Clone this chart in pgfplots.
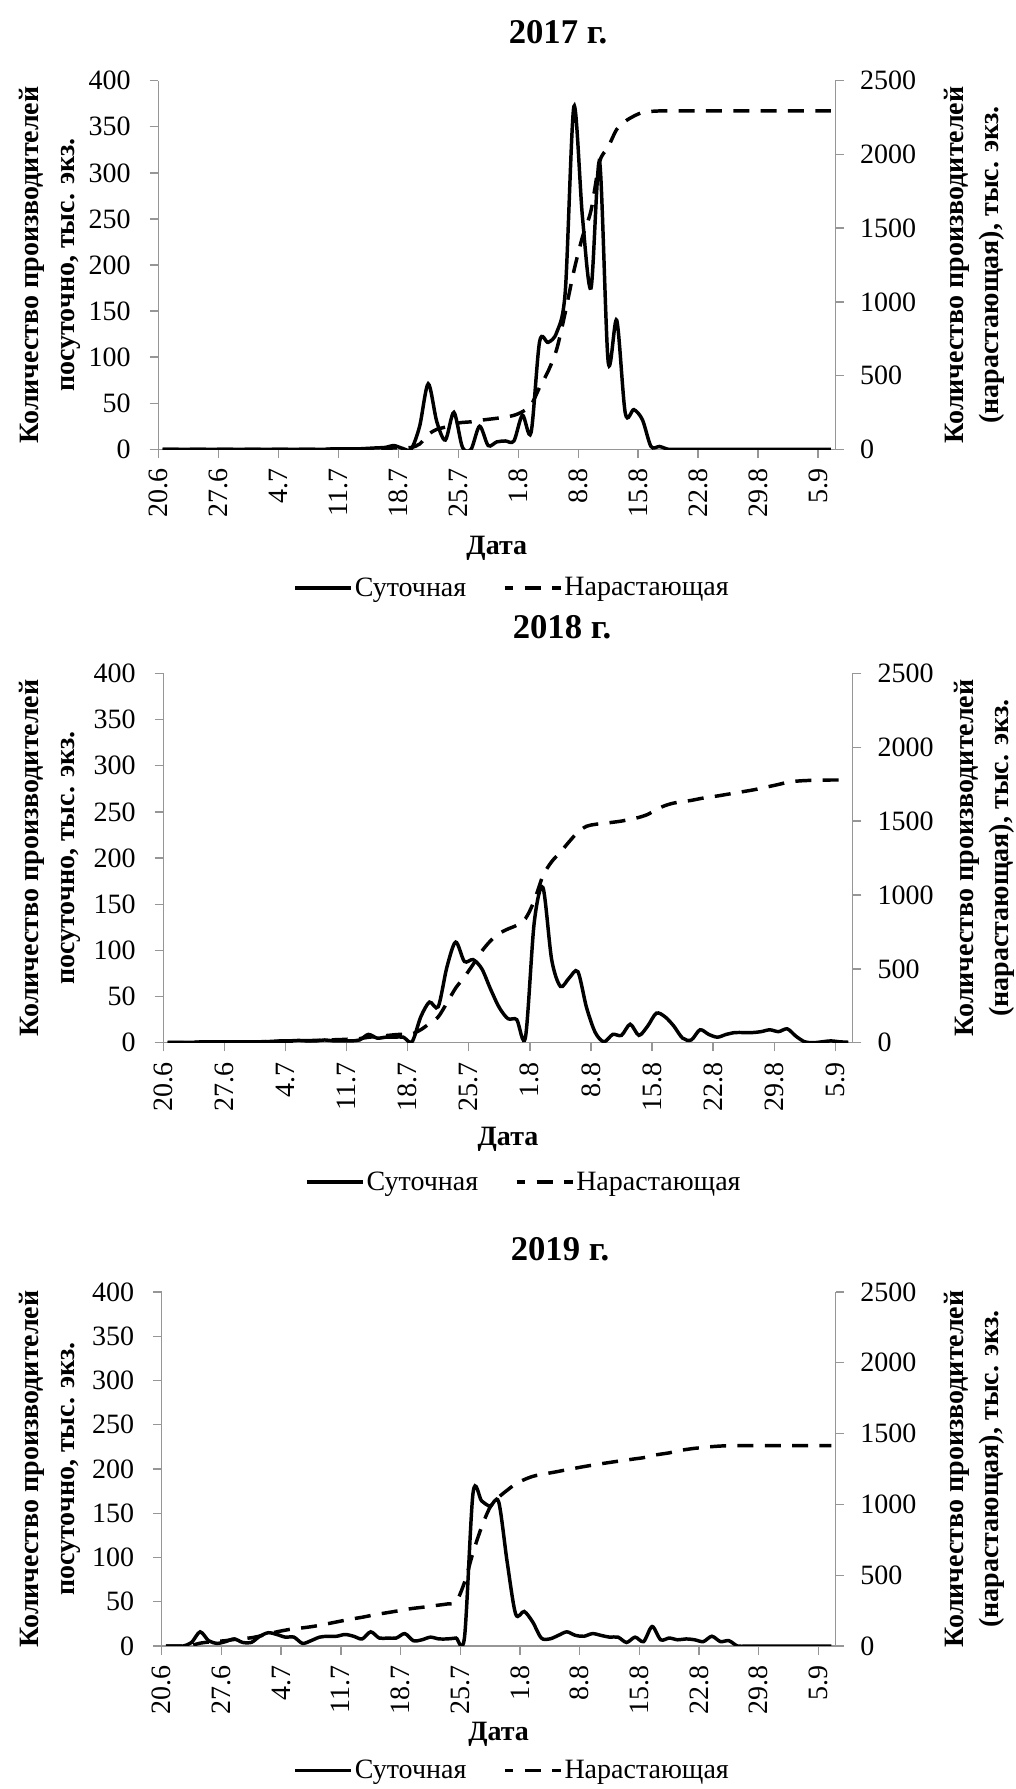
\documentclass[border=0pt]{standalone}
\usepackage{fontspec}
\setmainfont{Liberation Serif}
\usepackage{pgfplots}
\usepackage{pgfplotstable}
\pgfplotsset{compat=1.18}
\definecolor{axgray}{RGB}{150,150,150}
\newcommand{\tf}{\fontsize{21pt}{25pt}\selectfont}
\newcommand{\lf}{\fontsize{21pt}{26.5pt}\selectfont\bfseries}
\newcommand{\ttlf}{\fontsize{26pt}{30pt}\selectfont\bfseries}

% 2017: x = day index + 0.5 (0 = 20.6), d = daily, c = cumulative
\pgfplotstableread{
x d c
0.5 0 0
1.5 0 0
2.5 0 0
3.5 0 0
4.5 0 0
5.5 0 0
6.5 0 0
7.5 0 0
8.5 0 0
9.5 0 0
10.5 0 0
11.5 0 0
12.5 0 0
13.5 0 0
14.5 0 0
15.5 0 0
16.5 0 0
17.5 0 0
18.5 0 0
19.5 0 0
20.5 0.5 0
21.5 0.5 1
22.5 0.5 1
23.5 0.5 1
24.5 1 2
25.5 1.5 3
26.5 2 5
27.5 4 9
28.5 1 10
29.5 0 12
30.5 25 35
31.5 71 100
32.5 30 135
33.5 10 150
34.5 40 172
35.5 2 182
36.5 0 186
37.5 25 196
38.5 4 203
39.5 8 210
40.5 9 218
41.5 9 230
42.5 37 255
43.5 18 300
44.5 117 420
45.5 116 530
46.5 127 680
47.5 172 930
48.5 372 1210
49.5 252 1440
50.5 175 1620
51.5 312 1950
52.5 95 2050
53.5 140 2170
54.5 39 2225
55.5 43 2260
56.5 32 2285
57.5 3 2292
58.5 3 2295
59.5 0 2295
60.5 0 2295
61.5 0 2295
62.5 0 2295
63.5 0 2295
64.5 0 2295
65.5 0 2295
66.5 0 2295
67.5 0 2295
68.5 0 2295
69.5 0 2295
70.5 0 2295
71.5 0 2295
72.5 0 2295
73.5 0 2295
74.5 0 2295
75.5 0 2295
76.5 0 2295
77.5 0 2295
78.5 0 2295
}\dataA

% 2018
\pgfplotstableread{
x d c
0.5 0.5 0
1.5 0.5 1
2.5 0.5 1
3.5 0.5 2
4.5 1 2
5.5 1 3
6.5 1 3
7.5 1 4
8.5 1 4
9.5 1 5
10.5 1 6
11.5 1 7
12.5 1.5 8
13.5 2 9
14.5 2 10
15.5 2.5 12
16.5 2 14
17.5 2 16
18.5 3 18
19.5 2 20
20.5 2 22
21.5 2 25
22.5 3 28
23.5 9 37
24.5 5 42
25.5 6 48
26.5 6 54
27.5 6 58
28.5 1 60
29.5 28 88
30.5 44 130
31.5 39 175
32.5 82 270
33.5 109 370
34.5 88 445
35.5 90 530
36.5 80 620
37.5 58 690
38.5 38 740
39.5 26 770
40.5 25 795
41.5 6 840
42.5 130 960
43.5 168 1130
44.5 90 1225
45.5 61 1290
46.5 70 1360
47.5 77 1425
48.5 38 1465
49.5 11 1478
50.5 1 1485
51.5 9 1492
52.5 8 1500
53.5 20 1512
54.5 8 1525
55.5 18 1545
56.5 32 1578
57.5 28 1605
58.5 18 1622
59.5 5 1632
60.5 3 1640
61.5 14 1652
62.5 9 1662
63.5 6 1670
64.5 9 1680
65.5 11 1690
66.5 11 1700
67.5 11 1710
68.5 12 1722
69.5 14 1735
70.5 12 1748
71.5 15 1762
72.5 7 1770
73.5 1 1774
74.5 0 1776
75.5 1 1777
76.5 2 1778
77.5 1 1778
78.5 0.5 1778
}\dataB

% 2019
\pgfplotstableread{
x d c
0.5 0 0
1.5 0 0
2.5 0 0
3.5 4 5
4.5 16 20
5.5 6 28
6.5 3 32
7.5 5 38
8.5 8 46
9.5 4 52
10.5 4 58
11.5 11 70
12.5 15 86
13.5 13 100
14.5 10 112
15.5 10 122
16.5 3 128
17.5 6 136
18.5 10 146
19.5 11 158
20.5 11 170
21.5 13 182
22.5 11 193
23.5 8 203
24.5 16 215
25.5 9 226
26.5 9 236
27.5 9 246
28.5 14 257
29.5 6 266
30.5 7 273
31.5 10 281
32.5 8 289
33.5 8 297
34.5 9 310
35.5 10 450
36.5 173 660
37.5 164 840
38.5 158 980
39.5 163 1050
40.5 95 1100
41.5 36 1145
42.5 39 1175
43.5 27 1198
44.5 9 1212
45.5 8 1222
46.5 12 1233
47.5 16 1245
48.5 12 1256
49.5 11 1267
50.5 14 1277
51.5 12 1287
52.5 10 1296
53.5 10 1305
54.5 4 1313
55.5 10 1322
56.5 5 1330
57.5 22 1345
58.5 7 1355
59.5 9 1364
60.5 7 1378
61.5 8 1388
62.5 7 1396
63.5 5 1402
64.5 11 1408
65.5 5 1412
66.5 6 1415
67.5 0 1415
68.5 0 1415
69.5 0 1415
70.5 0 1415
71.5 0 1415
72.5 0 1415
73.5 0 1415
74.5 0 1415
75.5 0 1415
76.5 0 1415
77.5 0 1415
78.5 0 1415
}\dataC

\pgfplotsset{
  panel/.style={
    scale only axis, anchor=south west,
    xmin=0, xmax=79,
    axis line style={draw=axgray, line width=1pt},
    every tick/.style={draw=axgray, line width=1pt},
    tick align=outside, major tick length=6.5pt,
  },
  leftax/.style={panel, ymin=0, ymax=400,
    axis x line*=bottom, axis y line*=left,
    xtick={0,7,...,77},
    xticklabels={20.6,27.6,4.7,11.7,18.7,25.7,1.8,8.8,15.8,22.8,29.8,5.9},
    ytick={0,50,...,400},
    yticklabels={0,50,100,150,200,250,300,350,400},
    xticklabel style={rotate=90, anchor=east, inner xsep=8pt, font=\tf},
    yticklabel style={anchor=east, inner xsep=14pt, font=\tf},
  },
  rightax/.style={panel, ymin=0, ymax=2500,
    axis x line=none, axis y line*=right, xtick=\empty,
    ytick={0,500,...,2500},
    yticklabels={0,500,1000,1500,2000,2500},
    yticklabel style={anchor=west, inner xsep=12pt, font=\tf},
    legend image code/.code={\draw[#1, dash phase=5.5pt] (0pt,0pt) -- (42pt,0pt);},
    legend style={anchor=center, draw=none, fill=none, legend columns=2,
      font=\tf, nodes={inner sep=1.5pt},
      /tikz/every even column/.append style={column sep=26pt}},
  },
  daily/.style={black, line width=2.6pt, smooth, no marks},
  cumul/.style={black, line width=2.6pt, smooth, no marks, dash pattern=on 12pt off 8.5pt},
}

\begin{document}
\begin{tikzpicture}
\path[use as bounding box] (0pt,0pt) rectangle (761.25pt,1341.75pt);

% ---------- 2017 ----------
\begin{axis}[leftax, at={(118.7pt,1004.8pt)}, width=507.75pt, height=276.4pt]
\addplot[daily] table[x=x,y=d]{\dataA};
\end{axis}
\begin{axis}[rightax, at={(118.7pt,1004.8pt)}, width=507.75pt, height=276.4pt,
  legend style={at={(0.5225,-0.376)}}]
\addlegendimage{daily}
\addlegendentry{Суточная}
\addplot[cumul] table[x=x,y=c]{\dataA};
\addlegendentry{Нарастающая}
\end{axis}
\node[font=\ttlf] at (418.5pt,1317.75pt) {2017 г.};
\node[font=\lf] at (372.6pt,930.75pt) {Дата};
\node[font=\lf, rotate=90, align=center] at (37.5pt,1143pt) {Количество производителей\\посуточно,  тыс. экз.};
\node[font=\lf, rotate=90, align=center] at (730.5pt,1143pt) {Количество производителей\\(нарастающая), тыс. экз.};

% ---------- 2018 ----------
\begin{axis}[leftax, at={(122.5pt,559.7pt)}, width=517.05pt, height=277.05pt]
\addplot[daily] table[x=x,y=d]{\dataB};
\end{axis}
\begin{axis}[rightax, at={(122.5pt,559.7pt)}, width=517.05pt, height=277.05pt,
  legend style={at={(0.523,-0.377)}}]
\addlegendimage{daily}
\addlegendentry{Суточная}
\addplot[cumul] table[x=x,y=c]{\dataB};
\addlegendentry{Нарастающая}
\end{axis}
\node[font=\ttlf] at (421.5pt,871.5pt) {2018 г.};
\node[font=\lf] at (381pt,487.5pt) {Дата};
\node[font=\lf, rotate=90, align=center] at (37.5pt,698.25pt) {Количество производителей\\посуточно,  тыс. экз.};
\node[font=\lf, rotate=90, align=center] at (738pt,698.25pt) {Количество производителей\\(нарастающая), тыс. экз.};

% ---------- 2019 ----------
\begin{axis}[leftax, at={(121.3pt,107.25pt)}, width=505.35pt, height=265.5pt]
\addplot[daily] table[x=x,y=d]{\dataC};
\end{axis}
\begin{axis}[rightax, at={(121.3pt,107.25pt)}, width=505.35pt, height=265.5pt,
  legend style={at={(0.52,-0.351)}}]
\addlegendimage{daily}
\addlegendentry{Суточная}
\addplot[cumul] table[x=x,y=c]{\dataC};
\addlegendentry{Нарастающая}
\end{axis}
\node[font=\ttlf] at (420pt,405pt) {2019 г.};
\node[font=\lf] at (374pt,41pt) {Дата};
\node[font=\lf, rotate=90, align=center] at (37.5pt,240pt) {Количество производителей\\посуточно,  тыс. экз.};
\node[font=\lf, rotate=90, align=center] at (730.5pt,240pt) {Количество производителей\\(нарастающая), тыс. экз.};
\end{tikzpicture}
\end{document}
